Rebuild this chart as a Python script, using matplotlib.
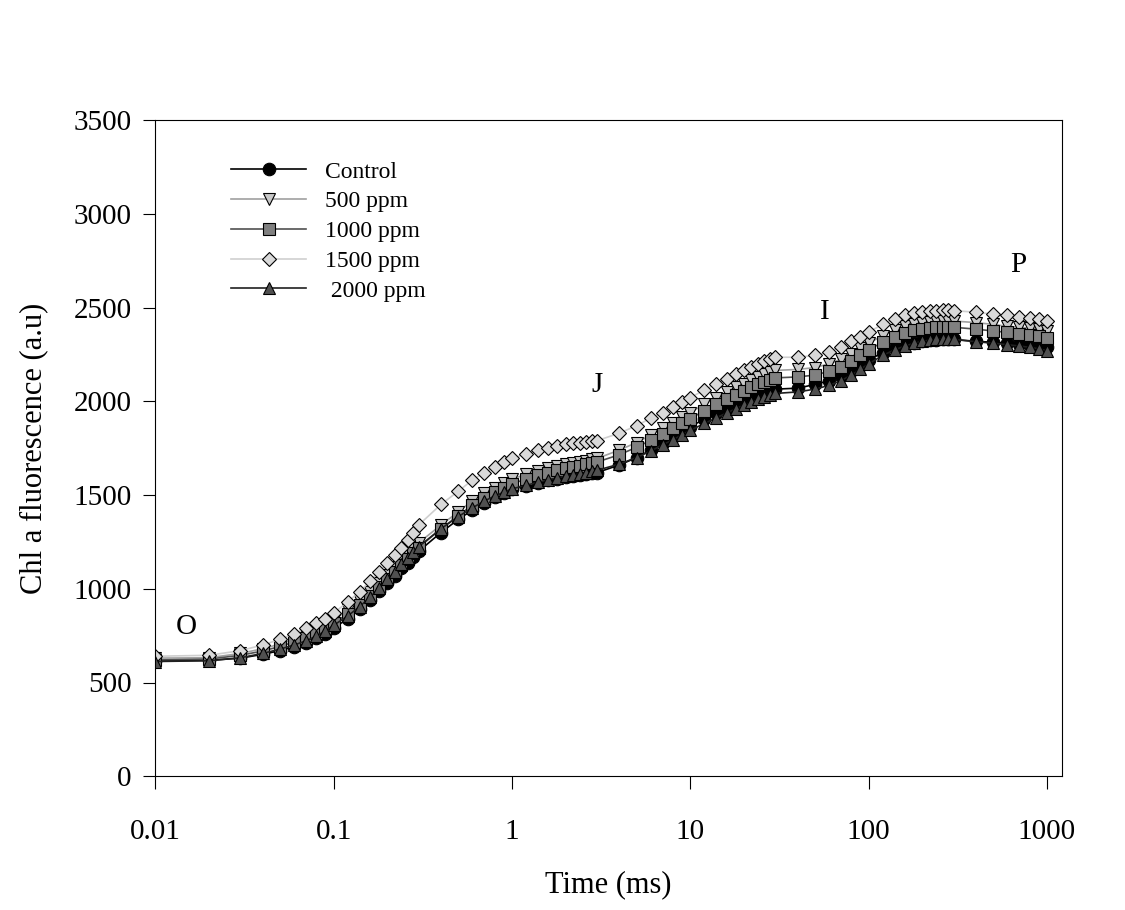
import matplotlib
matplotlib.use("Agg")
import matplotlib.pyplot as plt

plt.rcParams['font.family'] = ['Liberation Serif', 'DejaVu Serif']

# time points (ms)
times = [0.01,0.02,0.03,0.04,0.05,0.06,0.07,0.08,0.09,0.1,
	0.12,0.14,0.16,0.18,0.2,0.22,0.24,0.26,0.28,0.3,
	0.4,0.5,0.6,0.7,0.8,0.9,1,
	1.2,1.4,1.6,1.8,2,2.2,2.4,2.6,2.8,3,
	4,5,6,7,8,9,10,
	12,14,16,18,20,22,24,26,28,30,
	40,50,60,70,80,90,100,
	120,140,160,180,200,220,240,260,280,300,
	400,500,600,700,800,900,1000]

control = [615,618,630,650,670,690,710,735,760,790,
	840,890,940,990,1030,1070,1110,1140,1170,1200,
	1300,1370,1420,1460,1490,1510,1530,
	1550,1565,1578,1588,1595,1600,1605,1610,1615,1620,
	1660,1700,1740,1780,1810,1840,1865,
	1905,1935,1960,1985,2005,2020,2035,2045,2055,2065,
	2070,2090,2110,2135,2160,2190,2220,
	2260,2285,2300,2310,2320,2325,2328,2330,2330,2330,
	2320,2315,2310,2305,2300,2295,2290]

ppm500 = [630,632,655,680,705,730,755,780,805,835,
	885,935,985,1030,1075,1115,1150,1185,1215,1245,
	1340,1410,1470,1510,1540,1565,1585,
	1610,1630,1645,1655,1665,1672,1678,1684,1690,1695,
	1740,1780,1820,1855,1885,1915,1940,
	1985,2020,2050,2075,2095,2115,2130,2145,2155,2165,
	2170,2180,2200,2225,2255,2285,2310,
	2350,2380,2400,2412,2420,2425,2428,2430,2430,2428,
	2420,2410,2400,2395,2390,2385,2375]

ppm1000 = [620,625,645,668,692,716,740,765,790,818,
	865,915,962,1008,1050,1090,1125,1160,1190,1220,
	1320,1390,1445,1485,1515,1540,1560,
	1585,1605,1620,1632,1642,1650,1657,1664,1670,1676,
	1715,1755,1792,1826,1856,1884,1908,
	1950,1985,2012,2036,2056,2074,2090,2104,2115,2125,
	2130,2140,2160,2185,2215,2245,2275,
	2315,2345,2365,2378,2386,2392,2395,2397,2397,2395,
	2385,2375,2368,2360,2355,2348,2340]

ppm1500 = [640,645,670,700,730,760,790,815,840,870,
	930,985,1040,1090,1135,1180,1220,1260,1300,1340,
	1450,1520,1580,1620,1650,1675,1695,
	1720,1740,1752,1762,1770,1775,1780,1783,1786,1790,
	1830,1870,1910,1940,1970,1995,2020,
	2060,2095,2120,2145,2165,2185,2200,2215,2225,2235,
	2235,2245,2265,2290,2320,2345,2370,
	2410,2440,2460,2470,2478,2482,2484,2485,2485,2484,
	2475,2465,2458,2450,2445,2438,2430]

ppm2000 = [612,616,632,655,678,700,722,748,775,805,
	855,905,955,1005,1050,1090,1130,1165,1195,1225,
	1320,1385,1432,1468,1495,1515,1533,
	1552,1568,1582,1592,1600,1607,1613,1620,1626,1632,
	1665,1700,1735,1768,1795,1822,1845,
	1882,1912,1938,1960,1980,1995,2010,2022,2032,2042,
	2050,2065,2085,2110,2140,2170,2200,
	2245,2275,2295,2310,2320,2326,2330,2332,2332,2330,
	2318,2310,2302,2295,2288,2280,2270]

series = [
	("Control", control, 'o', 'black', 'black'),
	("500 ppm", ppm500, 'v', '#c8c8c8', '#a0a0a0'),
	("1000 ppm", ppm1000, 's', '#808080', '#505050'),
	("1500 ppm", ppm1500, 'D', '#d9d9d9', '#cfcfcf'),
	(" 2000 ppm", ppm2000, '^', '#505050', '#202020'),
]

fig = plt.figure(figsize=(11.25, 9.1), dpi=100)
ax = fig.add_axes([0.138, 0.147, 0.806, 0.721])

for label, vals, mk, face, line in series:
	ms = 7.5 if mk == 'D' else 9
	ax.plot(times, vals, color=line, linewidth=1.2, marker=mk, markersize=ms,
		markerfacecolor=face, markeredgecolor='black', markeredgewidth=0.8, label=label)

ax.set_xscale('log')
ax.set_xlim(0.01, 1214)
ax.set_ylim(0, 3500)
ax.set_yticks(range(0, 3501, 500))
ax.set_xticks([0.01, 0.1, 1, 10, 100, 1000])
ax.set_xticklabels(['0.01', '0.1', '1', '10', '100', '1000'])
ax.minorticks_off()
ax.tick_params(labelsize=21, direction='out', length=9)
ax.tick_params(axis='x', pad=22)
ax.tick_params(axis='y', pad=8)
ax.set_xlabel("Time (ms)", fontsize=22, labelpad=18)
ax.set_ylabel("Chl a fluorescence (a.u)", fontsize=22, labelpad=18)

for txt, x, y in [("O", 0.015, 795), ("J", 3.0, 2086), ("I", 57, 2476), ("P", 690, 2727)]:
	ax.text(x, y, txt, fontsize=21, ha='center', va='center')

ax.legend(loc='upper left', bbox_to_anchor=(0.06, 0.97), frameon=False, fontsize=17,
	handlelength=3.2, labelspacing=0.35)

fig.savefig("out.png")
